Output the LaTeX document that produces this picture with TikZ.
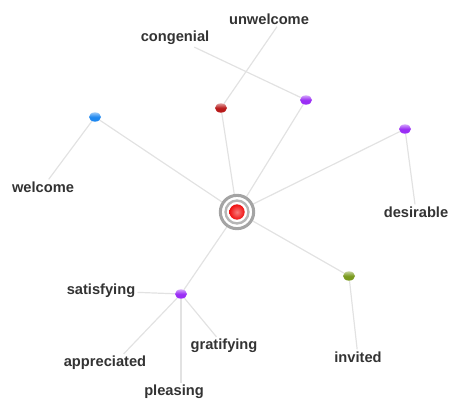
\documentclass[tikz,border=0pt]{standalone}
\usepackage{fontspec}
\setmainfont{Liberation Sans}
\usetikzlibrary{shapes.geometric,backgrounds}

\definecolor{linegray}{HTML}{E2E2E2}
\definecolor{textgray}{HTML}{333333}
\definecolor{ringgray}{HTML}{A4A4A4}
\definecolor{dotblue}{HTML}{1E88F0}
\definecolor{dotred}{HTML}{B81A1A}
\definecolor{dotpurple}{HTML}{9A2EF5}
\definecolor{dotolive}{HTML}{7A9A1E}
\definecolor{corered}{HTML}{F01010}

\tikzset{%
  % Specifications for style of nodes:
         dot/.style = {ellipse, minimum width=9pt, minimum height=7pt, inner sep=0pt,
                       top color=#1!45!white, bottom color=#1, middle color=#1},
        word/.style = {font=\fontsize{11}{13}\selectfont\bfseries, text=textgray, inner sep=1.5pt},
        link/.style = {draw=linegray, line width=0.9pt},
}

\begin{document}
\begin{tikzpicture}[x=0.75pt, y=-0.75pt]
    \useasboundingbox (0,0) rectangle (449,403);

    % Draw centre
    \node (hub) [circle, minimum size=25pt, fill=white, draw=ringgray, line width=2.3pt] at (237,212) {};
    \draw[ringgray!80, line width=1.8pt] (hub) circle (8.6pt);
    \node (core) [circle, minimum size=11.5pt, inner sep=0pt, inner color=corered!55!white, outer color=corered] at (237,212) {};

    % Draw dots
    \node (d1) [dot=dotblue]   at (95,117)  {};
    \node (d2) [dot=dotred]    at (221,108) {};
    \node (d3) [dot=dotpurple] at (306,100) {};
    \node (d4) [dot=dotpurple] at (405,129) {};
    \node (d5) [dot=dotolive]  at (349,276) {};
    \node (d6) [dot=dotpurple] at (181,294) {};

    % Draw words
    \node (welcome)     [word] at (43,187)  {welcome};
    \node (unwelcome)   [word] at (269,19)  {unwelcome};
    \node (congenial)   [word] at (175,38)  {congenial};
    \node (desirable)   [word] at (416,212) {desirable};
    \node (invited)     [word] at (358,357) {invited};
    \node (satisfying)  [word] at (101,291) {satisfying};
    \node (gratifying)  [word] at (224,346) {gratifying};
    \node (appreciated) [word] at (105,363) {appreciated};
    \node (pleasing)    [word] at (174,392) {pleasing};

    % Draw links
    \begin{pgfonlayer}{background}
    \foreach \d in {d1,d2,d3,d4,d5,d6}
        \draw[link] (hub) -- (\d);
    \draw[link] (d1) -- (welcome);
    \draw[link] (d2) -- ([xshift=6pt]unwelcome.south);
    \draw[link] (d3) -- (congenial);
    \draw[link] (d4) -- (desirable);
    \draw[link] (d5) -- (invited);
    \draw[link] (d6) -- (satisfying);
    \draw[link] (d6) -- (gratifying);
    \draw[link] (d6) -- ([xshift=14pt]appreciated.north);
    \draw[link] (d6) -- (pleasing.north -| d6);
    \end{pgfonlayer}
\end{tikzpicture}
\end{document}
